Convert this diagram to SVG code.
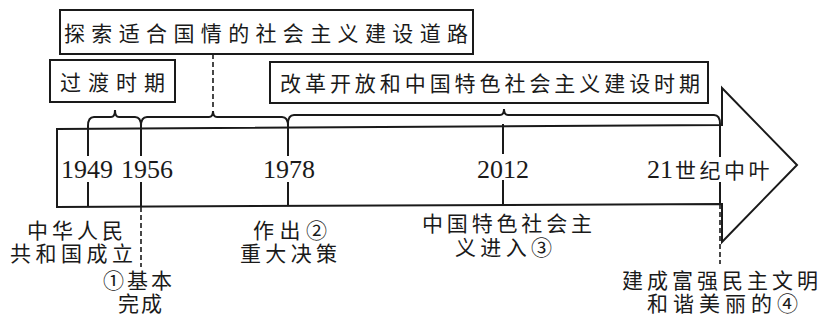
<svg xmlns="http://www.w3.org/2000/svg" width="824" height="320" viewBox="0 0 824 320">
<style>
.ln{fill:none;stroke:#1a1a1a;stroke-width:2;stroke-linejoin:miter}
.dash{fill:none;stroke:#1a1a1a;stroke-width:1.6;stroke-dasharray:5 3}
.box{fill:#fff;stroke:#1a1a1a;stroke-width:2}
.zh{font-family:"Noto Sans CJK SC","Noto Sans",sans-serif;font-size:21px;fill:#1a1a1a}
.yr{font-family:"Liberation Serif","Times New Roman",serif;font-size:26px;fill:#1a1a1a;text-anchor:middle}
</style>
<rect width="824" height="320" fill="#fff"/>
<g id="arrow">
<path class="ln" d="M57,129 L722,125 L722,88 L797,165 L722,242 L722,204 L57,207 Z"/>
</g>
<g id="connectors">
<path class="ln" d="M88,126 Q88,117 94,117 L111,117 Q115,117 115,110 Q115,117 119,117 L135,117 Q141,117 141,126"/>
<path class="ln" d="M141,126 Q141,117 147,117 L209,117 Q213,117 213,111 Q213,117 217,117 L282,117 Q288,117 288,126"/>
<path class="ln" d="M288,124 Q288,115 294,115 L500,115 Q504,115 504,109 Q504,115 508,115 L714,115 Q720,115 720,124"/>
<path class="ln" d="M88,126 V156 M88,182 V207 M141,126 V156 M141,182 V207 M288,124 V156 M288,182 V206 M503,124 V154 M503,180 V205 M720,124 V157 M720,182 V204"/>
<path class="dash" d="M213,54 V110"/>
<path class="dash" d="M141,207 V267"/>
<path class="dash" d="M720,204 V264"/>
</g>
<g id="top-box">
<rect class="box" x="60" y="10" width="413" height="44"/>
<text class="zh" x="64" y="41" font-size="22" textLength="404" lengthAdjust="spacing">探索适合国情的社会主义建设道路</text>
</g>
<g id="transition-box">
<rect class="box" x="50" y="60" width="125" height="42"/>
<text class="zh" x="60" y="90" font-size="22" textLength="105" lengthAdjust="spacing">过渡时期</text>
</g>
<g id="reform-box">
<rect class="box" x="270" y="62" width="438" height="41"/>
<text class="zh" x="280" y="91" font-size="21" textLength="420" lengthAdjust="spacing">改革开放和中国特色社会主义建设时期</text>
</g>
<g id="years">
<text class="yr" x="87" y="178">1949</text>
<text class="yr" x="147" y="178">1956</text>
<text class="yr" x="289" y="178">1978</text>
<text class="yr" x="503" y="178">2012</text>
<text class="yr" x="647" y="178" style="text-anchor:start">21<tspan class="zh" font-size="22" dx="2" letter-spacing="3.5">世纪中叶</tspan></text>
</g>
<g id="label-1949">
<text class="zh" x="27" y="238" textLength="96" lengthAdjust="spacing">中华人民</text>
<text class="zh" x="10" y="261" textLength="123" lengthAdjust="spacing">共和国成立</text>
</g>
<g id="label-1956">
<text class="zh" x="103" y="288" textLength="69" lengthAdjust="spacing">①基本</text>
<text class="zh" x="118" y="311" textLength="44" lengthAdjust="spacing">完成</text>
</g>
<g id="label-1978">
<text class="zh" x="253" y="238" textLength="74" lengthAdjust="spacing">作出②</text>
<text class="zh" x="240" y="261" textLength="97" lengthAdjust="spacing">重大决策</text>
</g>
<g id="label-2012">
<text class="zh" x="422" y="231" textLength="170" lengthAdjust="spacing">中国特色社会主</text>
<text class="zh" x="455" y="255" textLength="97" lengthAdjust="spacing">义进入③</text>
</g>
<g id="label-future">
<text class="zh" x="622" y="288" textLength="196" lengthAdjust="spacing">建成富强民主文明</text>
<text class="zh" x="647" y="311" textLength="151" lengthAdjust="spacing">和谐美丽的④</text>
</g>
</svg>
